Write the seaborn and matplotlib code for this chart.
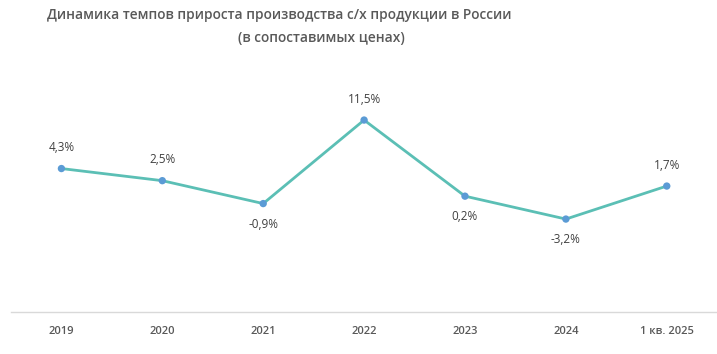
import matplotlib
matplotlib.use("Agg")
import matplotlib.pyplot as plt
import seaborn as sns
import pandas as pd

categories = ["2019", "2020", "2021", "2022", "2023", "2024", "1 кв. 2025"]
values = [4.3, 2.5, -0.9, 11.5, 0.2, -3.2, 1.7]
labels = ["4,3%", "2,5%", "-0,9%", "11,5%", "0,2%", "-3,2%", "1,7%"]
label_above = [True, True, False, True, False, False, True]

title1 = "Динамика темпов прироста производства с/х продукции в России"
title2 = "(в сопоставимых ценах)"

sns.set_theme(style="white")
plt.rcParams['font.family'] = ['Open Sans', 'DejaVu Sans']

df = pd.DataFrame({"cat": categories, "val": values})
df["x"] = range(len(df))

fig = plt.figure(figsize=(7.17, 3.54), dpi=100)
ax = fig.add_axes([0.0153, 0.1186, 0.985, 0.704])

sns.lineplot(data=df, x="x", y="val", ax=ax, color="#5BBFB5", linewidth=2.0, zorder=2)
sns.scatterplot(data=df, x="x", y="val", ax=ax, color="#5B9BD5", s=28, edgecolor="none", zorder=3)

for xi, v, lab, up in zip(df["x"], values, labels, label_above):
    ax.annotate(lab, (xi, v), xytext=(0, 15 if up else -15), textcoords="offset points",
                ha="center", va="center", fontsize=8.5, color="#404040")

ax.set_xlim(-0.5, 6.5)
ax.set_ylim(-17, 20)
ax.set_xticks(df["x"])
ax.set_xticklabels(categories, fontsize=8, fontweight="semibold", color="#595959")
ax.set_yticks([])
ax.set_xlabel("")
ax.set_ylabel("")
ax.tick_params(axis="x", length=0, pad=10)
for s in ["top", "right", "left"]:
    ax.spines[s].set_visible(False)
ax.spines["bottom"].set_color("#D9D9D9")
ax.spines["bottom"].set_linewidth(1.0)

fig.text(279 / 717, 1 - 15 / 354, title1, ha="center", va="center", fontsize=9.9,
         fontweight="semibold", color="#595959")
fig.text(321 / 717, 1 - 38 / 354, title2, ha="center", va="center", fontsize=9.9,
         fontweight="semibold", color="#595959")

fig.savefig("out.png", dpi=100)
